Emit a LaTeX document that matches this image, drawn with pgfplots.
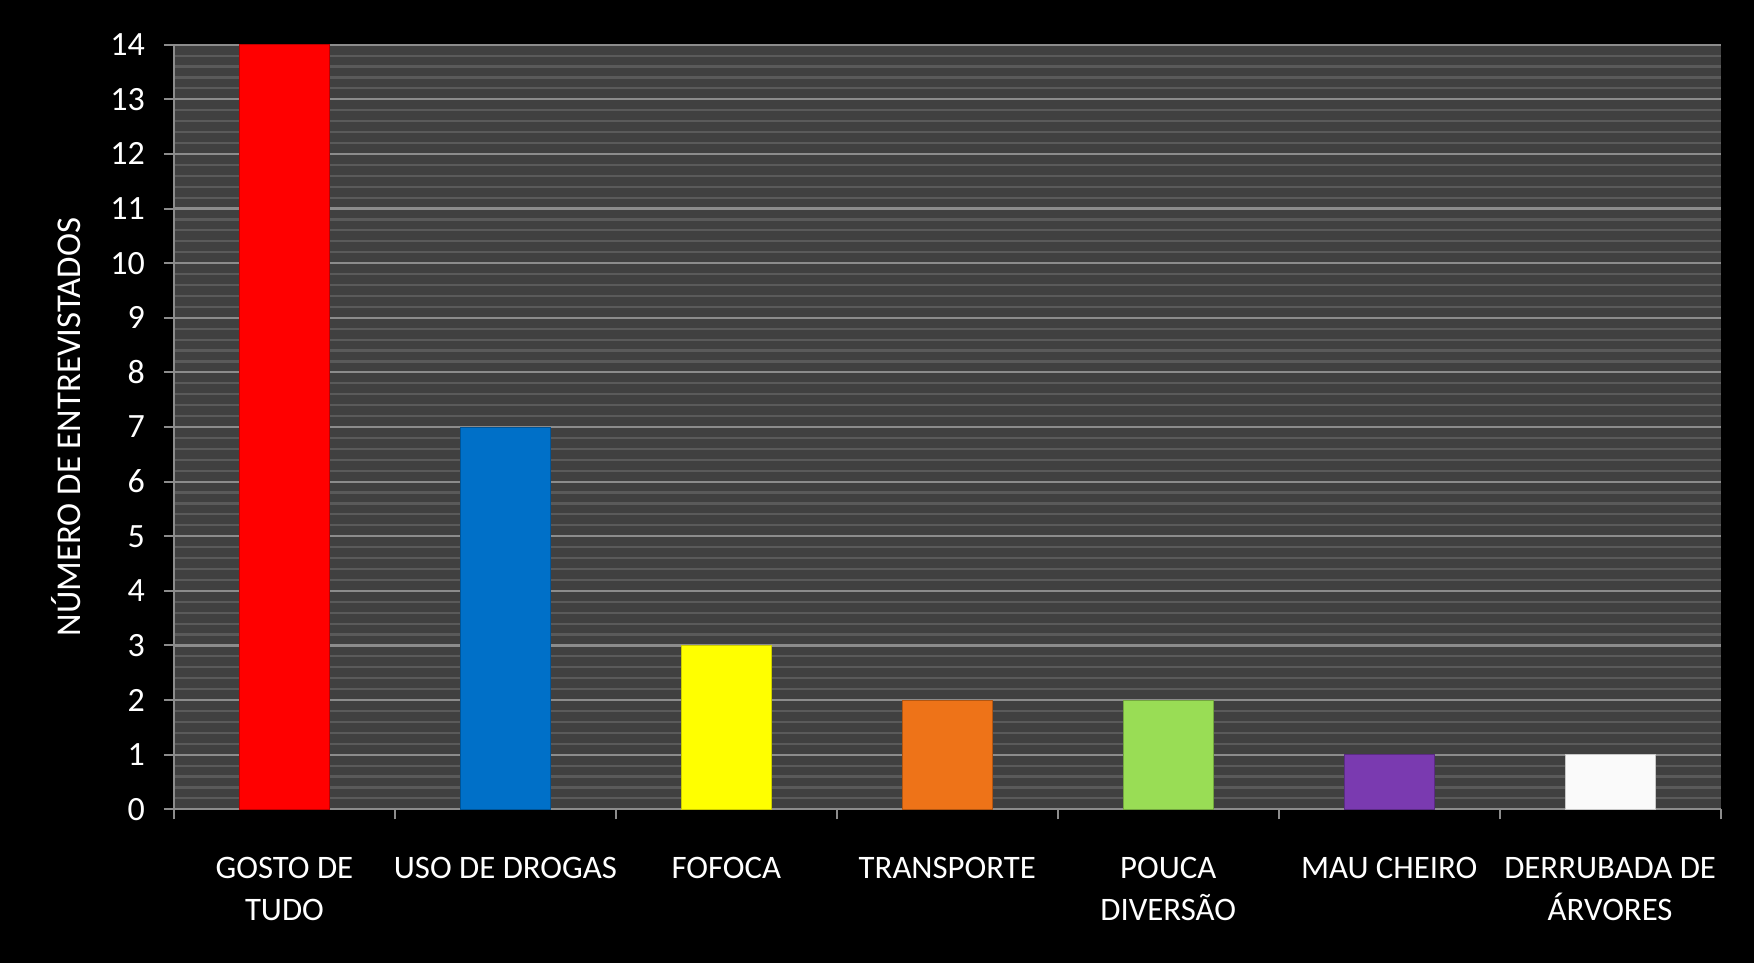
\documentclass[border=0pt]{standalone}
\usepackage{pgfplots}
\pgfplotsset{compat=1.18}
\usepackage{fontspec}
\setmainfont{Carlito}
\definecolor{plotbg}{HTML}{404040}
\definecolor{majgrid}{HTML}{8C8C8C}
\definecolor{mingrid}{HTML}{5A5A5A}
\definecolor{barred}{HTML}{FF0000}
\definecolor{barblue}{HTML}{0070C8}
\definecolor{baryellow}{HTML}{FFFF00}
\definecolor{barorange}{HTML}{EE7318}
\definecolor{bargreen}{HTML}{99DD55}
\definecolor{barpurple}{HTML}{7A3AB0}
\definecolor{barwhite}{HTML}{FAFAFA}
\begin{document}
\begin{tikzpicture}
\fill[black] (0,0) rectangle (877pt,481.5pt);
\begin{axis}[
  at={(87pt,76.85pt)}, anchor=south west,
  width=773.3pt, height=382.3pt, scale only axis,
  xmin=-0.5, xmax=6.5, ymin=0, ymax=14,
  axis background/.style={fill=plotbg},
  axis lines*=left,
  axis line style={majgrid, line width=1pt},
  tick align=outside,
  major tick length=5pt,
  minor tick length=0pt,
  tick style={majgrid, line width=1pt},
  xtick={-0.5,0.5,1.5,2.5,3.5,4.5,5.5,6.5},
  xticklabels={,,,,,,,},
  extra x ticks={0,1,2,3,4,5,6},
  extra x tick labels={GOSTO DE\\TUDO, USO DE DROGAS, FOFOCA, TRANSPORTE, POUCA\\DIVERSÃO, MAU CHEIRO, DERRUBADA DE\\ÁRVORES},
  extra x tick style={major tick length=0pt, grid=none},
  ytick={0,1,...,14},
  minor y tick num=4,
  ymajorgrids, yminorgrids,
  major grid style={majgrid, line width=1.1pt},
  minor grid style={mingrid, line width=1.1pt},
  x tick label style={font=\fontsize{16.4pt}{21pt}\selectfont, text=white, align=center, yshift=-20.5pt},
  y tick label style={font=\fontsize{17pt}{21pt}\selectfont, text=white, xshift=-6pt},
  /pgf/number format/assume math mode=true,
  ylabel={NÚMERO DE ENTREVISTADOS},
  ylabel style={font=\fontsize{17.4pt}{21pt}\selectfont, text=white, at={(axis description cs:-0.0695,0.5)}, anchor=center},
  ybar, bar width=45pt, bar shift=0pt,
  clip=false,
]
\addplot[fill=barred, draw=barred!75!black] coordinates {(0,14)};
\addplot[fill=barblue, draw=barblue!75!black] coordinates {(1,7)};
\addplot[fill=baryellow, draw=baryellow!80!black] coordinates {(2,3)};
\addplot[fill=barorange, draw=barorange!75!black] coordinates {(3,2)};
\addplot[fill=bargreen, draw=bargreen!75!black] coordinates {(4,2)};
\addplot[fill=barpurple, draw=barpurple!75!black] coordinates {(5,1)};
\addplot[fill=barwhite, draw=barwhite!80!black] coordinates {(6,1)};
\end{axis}
\end{tikzpicture}
\end{document}
